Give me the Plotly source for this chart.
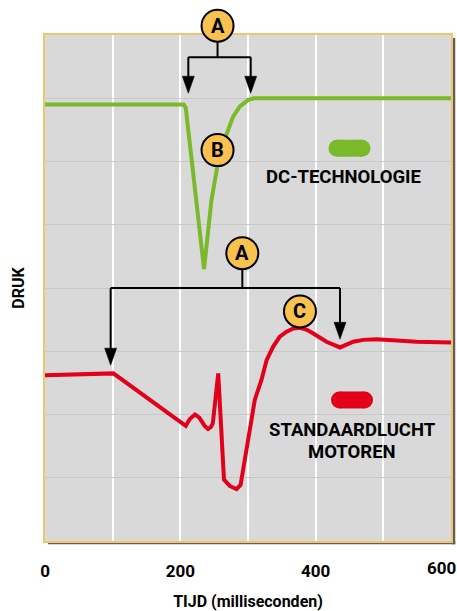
import plotly.graph_objects as go

# ---- data ----
green_t = [0, 205, 208, 235, 246, 256, 262, 268.5, 278, 288, 300, 308, 600]
green_p = [6.9, 6.9, 6.85, 4.30, 5.39, 6.0, 6.25, 6.45, 6.71, 6.87, 6.97, 7.0, 7.0]

red_t = [0, 101, 208, 214, 221.7, 228, 236, 241, 245, 248, 256, 264.5, 273, 283, 289,
         300, 310, 320, 327.5, 337, 347, 357, 367, 377, 387, 396.5, 416, 436, 445,
         455.6, 470, 490, 520, 549, 600]
red_p = [2.62, 2.65, 1.82, 1.93, 2.0, 1.95, 1.82, 1.77, 1.80, 1.86, 2.65, 0.97, 0.87, 0.82, 0.885,
         1.6, 2.23, 2.55, 2.86, 3.07, 3.23, 3.31, 3.36, 3.37, 3.34, 3.28, 3.15, 3.06, 3.10,
         3.15, 3.18, 3.19, 3.17, 3.15, 3.14]

x_tickvals = [0, 100, 200, 300, 400, 500, 600]
x_ticktext = ["0", "", "200", "", "400", "", ""]
last_tick_val = 600
last_tick_text = "600"

GREEN = "#7AB929"
RED = "#E2001A"
YELLOW = "#F9C24F"
FONT = "Roboto, DejaVu Sans Condensed, sans-serif"

fig = go.Figure()
fig.add_trace(go.Scatter(x=green_t, y=green_p, mode="lines",
                         line=dict(color=GREEN, width=4), hoverinfo="skip"))
fig.add_trace(go.Scatter(x=red_t, y=red_p, mode="lines",
                         line=dict(color=RED, width=4), hoverinfo="skip"))

shapes = []
annos = []

# shadow of the plot box
shapes.append(dict(type="rect", xref="paper", yref="paper", x0=1.0025, x1=1.0105,
                   y0=-0.0065, y1=0.994, fillcolor="#5F5F5F", line_width=0, layer="below"))
shapes.append(dict(type="rect", xref="paper", yref="paper", x0=0.0074, x1=1.0105,
                   y0=-0.0065, y1=-0.001, fillcolor="#5F5F5F", line_width=0, layer="below"))

LW = 2


def line(x0, y0, x1, y1, yref="y"):
    shapes.append(dict(type="line", xref="x", yref=yref, x0=x0, y0=y0, x1=x1, y1=y1,
                       line=dict(color="black", width=LW)))


def arrow_down(x, y):
    shapes.append(dict(type="path", xref="x", yref="y", xsizemode="pixel", ysizemode="pixel",
                       xanchor=x, yanchor=y, path="M-6,17 L6,17 L0,0 Z",
                       fillcolor="black", line=dict(color="black", width=0.5)))


def badge(x, y, letter, yref="y"):
    shapes.append(dict(type="circle", xref="x", yref=yref, xsizemode="pixel", ysizemode="pixel",
                       xanchor=x, yanchor=y, x0=-16, x1=16, y0=-16, y1=16,
                       fillcolor=YELLOW, line=dict(color="black", width=2)))
    annos.append(dict(x=x, y=y, xref="x", yref=yref, text=letter, showarrow=False,
                      font=dict(family=FONT, size=20, color="black", weight="bold"),
                      xanchor="center", yanchor="middle"))


def pill(x, y, color):
    shapes.append(dict(type="rect", xref="x", yref="y", xsizemode="pixel", ysizemode="pixel",
                       xanchor=x, yanchor=y, x0=-12.5, x1=12.5, y0=-8.5, y1=8.5,
                       fillcolor=color, line_width=0))
    for cx in (-12.5, 12.5):
        shapes.append(dict(type="circle", xref="x", yref="y", xsizemode="pixel", ysizemode="pixel",
                           xanchor=x, yanchor=y, x0=cx - 8.5, x1=cx + 8.5, y0=-8.5, y1=8.5,
                           fillcolor=color, line_width=0))


# top bracket A (DC)
line(255, 7.65, 255, 7.95)
line(211.8, 7.65, 304, 7.65)
line(211.8, 7.65, 211.8, 7.25)
line(304, 7.65, 304, 7.25)
arrow_down(211.8, 7.08)
arrow_down(304, 7.08)
badge(255, 1.0184, "A", yref="paper")
badge(255, 6.18, "B")

# lower bracket A (standard)
line(291.6, 4.0, 291.6, 4.4)
line(97, 4.0, 436, 4.0)
line(97, 4.0, 97, 2.95)
line(436, 4.0, 436, 3.36)
arrow_down(97, 2.78)
arrow_down(436, 3.19)
badge(291.6, 4.55, "A")
badge(376.8, 3.63, "C")

# legends
pill(450, 6.21, GREEN)
pill(453.7, 2.23, RED)
lab_font = dict(family=FONT, size=18.5, color="black", weight="bold")
annos.append(dict(x=441.8, y=5.76, xref="x", yref="y", text="DC-TECHNOLOGIE",
                  showarrow=False, font=lab_font, xanchor="center", yanchor="middle"))
annos.append(dict(x=453.7, y=1.755, xref="x", yref="y", text="STANDAARDLUCHT",
                  showarrow=False, font=lab_font, xanchor="center", yanchor="middle"))
annos.append(dict(x=453.7, y=1.41, xref="x", yref="y", text="MOTOREN",
                  showarrow=False, font=lab_font, xanchor="center", yanchor="middle"))

tick_font = dict(family=FONT, size=17, color="black", weight="bold")
# last x tick label, kept inside the page edge
annos.append(dict(x=last_tick_val, y=-0.053, xref="x", yref="paper", text=last_tick_text,
                  showarrow=False, font=tick_font, xanchor="center", yanchor="middle",
                  xshift=-10))

fig.update_layout(
    width=457, height=611,
    margin=dict(l=45, r=6, t=35, b=70),
    paper_bgcolor="white", plot_bgcolor="#D9D9D9",
    showlegend=False,
    shapes=shapes, annotations=annos,
    xaxis=dict(range=[0, 600], tickvals=x_tickvals, ticktext=x_ticktext,
               showgrid=True, gridcolor="white", gridwidth=1.5, zeroline=False,
               showline=True, linecolor="#F4C46C", linewidth=2, mirror=True,
               ticks="", ticklabelstandoff=14, automargin=False,
               tickfont=tick_font,
               title=dict(text="TIJD (milliseconden)", standoff=16,
                          font=dict(family=FONT, size=16, color="black", weight="bold"))),
    yaxis=dict(range=[0, 8], dtick=1, showticklabels=False, automargin=False,
               showgrid=True, gridcolor="#C8C8C8", gridwidth=1, zeroline=False,
               showline=True, linecolor="#F4C46C", linewidth=2, mirror=True, ticks="",
               title=dict(text="DRUK", standoff=14,
                          font=dict(family=FONT, size=16, color="black", weight="bold"))),
)

fig.write_html("out.html", config={"displayModeBar": False},
               post_script="document.body.style.margin='0';")
